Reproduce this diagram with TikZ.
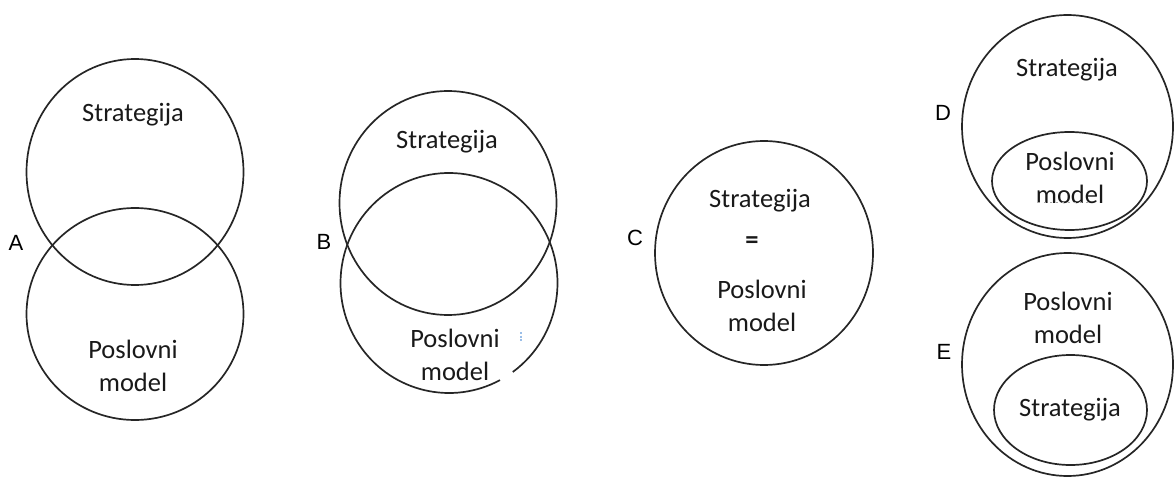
\documentclass[tikz,border=0pt]{standalone}
\usepackage{fontspec}
\setmainfont{Carlito}
\newfontfamily\labelfont{Liberation Sans}
\begin{document}
\begin{tikzpicture}[x=1pt,y=-1pt,
  ring/.style={draw=black!85, line width=1.7pt},
  txt/.style={font=\fontsize{26.5}{33}\selectfont, text=black!90, align=center, inner sep=0pt},
  lbl/.style={font={\labelfont\fontsize{22}{24}\selectfont}, text=black, inner sep=0pt}]
\useasboundingbox (0,0) rectangle (1174,478);
% ---------- A ----------
\draw[ring] (135,172) ellipse [x radius=108.5pt, y radius=113pt];
\draw[ring] (135,314) ellipse [x radius=108.5pt, y radius=106pt];
\node[lbl] (la) at (16,243) {A};
\node[txt] (a1) at (133,115) {Strategija};
\node[txt] (a2) at (133,366) {Poslovni\\model};
% ---------- B ----------
\draw[ring] (448,203) ellipse [x radius=108.5pt, y radius=112pt];
\draw[ring] ([shift={(-54:108.5pt and 110pt)}]449,283) arc [start angle=-54, end angle=298, x radius=108.5pt, y radius=110pt];
\node[lbl] (lb) at (324,242) {B};
\node[txt] (b1) at (447,142) {Strategija};
\node[txt] (b2) at (455,355) {Poslovni\\model};
\draw[cyan!60!blue!40, line width=1.2pt, dash pattern=on 2pt off 1.5pt] (521,332) -- (521,341);
% ---------- C ----------
\draw[ring] (764,253) ellipse [x radius=109pt, y radius=112pt];
\node[lbl] (lc) at (635,238) {C};
\node[txt] (c1) at (760,201) {Strategija};
\node[txt, font=\bfseries\fontsize{26.5}{33}\selectfont] (c2) at (752,243) {=};
\node[txt] (c3) at (762,306) {Poslovni\\model};
% ---------- D ----------
\draw[ring] (1067.5,126.5) ellipse [x radius=105.5pt, y radius=111.5pt];
\draw[ring] (1069.5,181) ellipse [x radius=77.5pt, y radius=49pt];
\node[lbl] (ld) at (943,113) {D};
\node[txt] (d1) at (1067,70) {Strategija};
\node[txt] (d2) at (1070,178) {Poslovni\\model};
\draw[black!35, line width=1pt, dash pattern=on 2pt off 4pt] (1038,203) -- (1090,203);
% ---------- E ----------
\draw[ring] (1067.5,364.5) ellipse [x radius=105.5pt, y radius=111.5pt];
\draw[ring] (1070.5,410) ellipse [x radius=76.5pt, y radius=55pt];
\node[lbl] (le) at (944,352) {E};
\node[txt] (e1) at (1068,318) {Poslovni\\model};
\node[txt] (e2) at (1070,410) {Strategija};
\end{tikzpicture}
\end{document}
